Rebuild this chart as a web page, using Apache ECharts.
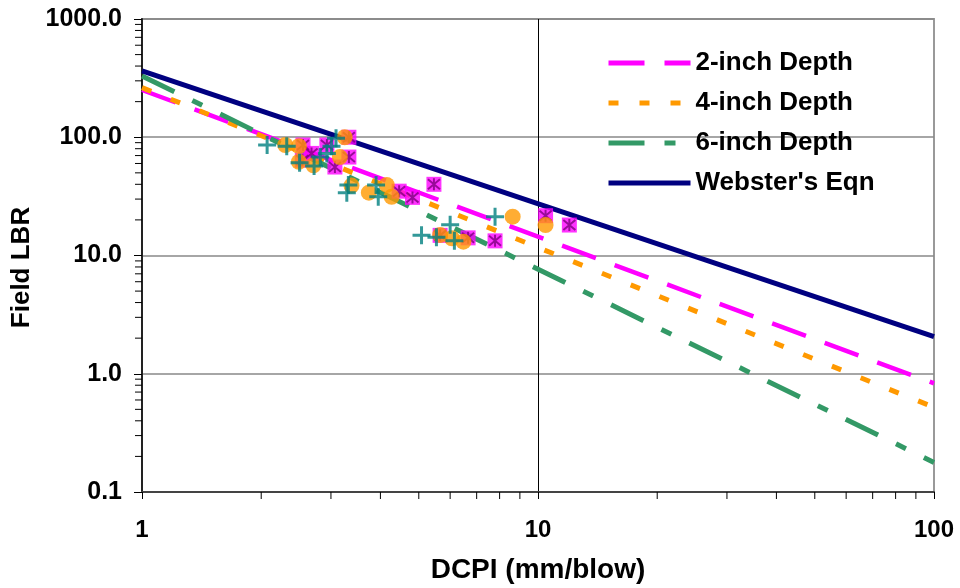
<!DOCTYPE html>
<html><head><meta charset="utf-8">
<script src="https://cdn.jsdelivr.net/npm/echarts@6/dist/echarts.min.js"></script>
<style>html,body{margin:0;padding:0;background:#fff}#c{width:960px;height:588px}</style>
</head><body><div id="c"></div>
<script>
// ---- data ----
const xTickLabels = ['1', '10', '100'];
const yTickLabels = ['0.1', '1.0', '10.0', '100.0', '1000.0'];
const lineNames = ['2-inch Depth', '4-inch Depth', '6-inch Depth', "Webster's Eqn"];

const depth2Line = [[1, 251], [100, 0.83]];
const depth4Line = [[1, 263], [100, 0.52]];
const depth6Line = [[1, 330], [100, 0.178]];
const websterLine = [[1, 365], [100, 2.06]];

const depth2Points = [[2.55, 86], [2.54, 64], [2.68, 73], [2.93, 86], [3.07, 56], [3.33, 100], [3.33, 68],
  [4.46, 35], [4.82, 31], [5.46, 40], [5.66, 14.8], [6.66, 14.1], [7.79, 13.3], [10.45, 21.7], [12.0, 18.1]];
const depth4Points = [[2.30, 86], [2.49, 84], [2.49, 62], [2.71, 58], [3.25, 100], [3.16, 68], [3.38, 39],
  [3.74, 34], [4.15, 39.5], [4.27, 31.4], [5.66, 14.9], [6.06, 14.0], [6.48, 13.1], [8.63, 21.3], [10.45, 18.1]];
const depth6Points = [[2.07, 86], [2.32, 84], [2.50, 61], [2.72, 57], [2.82, 68], [2.93, 73], [3.01, 84],
  [3.09, 98], [3.32, 39.5], [3.29, 34], [3.90, 39.5], [3.95, 31.4], [5.08, 14.8], [5.54, 14.3], [6.0, 18.2],
  [6.15, 13.3], [7.79, 21.3]];

// minor tick positions of the log axes (2..9 in each decade)
const minorMultipliers = [2, 3, 4, 5, 6, 7, 8, 9];
const yDecades = [0.1, 1, 10, 100];
const xDecades = [1, 10];

// ---- build ----
const FONT = "'Liberation Sans', Arial, sans-serif";
const yMinor = [];
yDecades.forEach(d => minorMultipliers.forEach(m => yMinor.push([1, +(d * m).toPrecision(3)])));
const xMinor = [];
xDecades.forEach(d => minorMultipliers.forEach(m => xMinor.push([+(d * m).toPrecision(3), 0.1])));

const chart = echarts.init(document.getElementById('c'), null, {renderer: 'canvas'});

function lineSeries(name, data, color, dash, width) {
  return {
    name, type: 'line', data, symbol: 'none', silent: true, animation: false, z: 3,
    lineStyle: {color, width, type: dash, cap: 'butt'},
    itemStyle: {color: 'rgba(0,0,0,0)', borderWidth: 0}
  };
}

const option = {
  animation: false,
  backgroundColor: '#fff',
  grid: {left: 142, right: 26, top: 19, bottom: 96, show: true, borderColor: '#999', borderWidth: 2,
    backgroundColor: 'transparent', outerBoundsMode: 'none'},
  legend: {
    data: lineNames, orient: 'vertical', left: 606, top: 50, padding: 0,
    itemWidth: 82, itemHeight: 14, itemGap: 14,
    lineStyle: {width: 5},
    textStyle: {fontFamily: FONT, fontWeight: 'bold', fontSize: 26, color: '#000', lineHeight: 26},
    selectedMode: false
  },
  xAxis: {
    type: 'log', logBase: 10, min: 1, max: 100,
    name: 'DCPI (mm/blow)', nameLocation: 'middle', nameGap: 64,
    nameTextStyle: {fontFamily: FONT, fontWeight: 'bold', fontSize: 28, color: '#000'},
    axisLine: {show: true, onZero: false, lineStyle: {color: '#444', width: 2}},
    axisTick: {show: true, length: 7, inside: false, lineStyle: {color: '#000', width: 1}},
    minorTick: {show: false},
    axisLabel: {margin: 26, fontFamily: FONT, fontWeight: 'bold', fontSize: 24, color: '#000',
      formatter: v => xTickLabels[Math.round(Math.log10(v))]},
    splitLine: {show: true, lineStyle: {color: ['#000', '#000', '#999'], width: 1}}
  },
  yAxis: {
    type: 'log', logBase: 10, min: 0.1, max: 1000,
    name: 'Field LBR', nameLocation: 'middle', nameGap: 95, nameRotate: 90,
    nameTextStyle: {fontFamily: FONT, fontWeight: 'bold', fontSize: 26, color: '#000', padding: [0, 24, 0, 0]},
    axisLine: {show: true, onZero: false, lineStyle: {color: '#222', width: 2}},
    axisTick: {show: true, length: 8, inside: false, lineStyle: {color: '#000', width: 1}},
    minorTick: {show: false},
    axisLabel: {margin: 20, fontFamily: FONT, fontWeight: 'bold', fontSize: 25, color: '#000',
      formatter: v => yTickLabels[Math.round(Math.log10(v)) + 1]},
    splitLine: {show: true, lineStyle: {color: '#888', width: 1.5}}
  },
  series: [
    // minor ticks drawn through the axis scales
    {type: 'custom', silent: true, clip: false, animation: false, data: yMinor, z: 5,
      renderItem: (params, api) => {
        const p = api.coord([api.value(0), api.value(1)]);
        return {type: 'line', shape: {x1: p[0] - 7, y1: p[1], x2: p[0], y2: p[1]}, style: {stroke: '#000', lineWidth: 1}};
      }},
    {type: 'custom', silent: true, clip: false, animation: false, data: xMinor, z: 5,
      renderItem: (params, api) => {
        const p = api.coord([api.value(0), api.value(1)]);
        return {type: 'line', shape: {x1: p[0], y1: p[1], x2: p[0], y2: p[1] + 7}, style: {stroke: '#000', lineWidth: 1}};
      }},
    lineSeries(lineNames[0], depth2Line, '#FF00FF', [36, 20], 4.5),
    lineSeries(lineNames[1], depth4Line, '#FF9900', [10, 21], 5),
    lineSeries(lineNames[2], depth6Line, '#339966', [36, 20, 11, 20], 5),
    lineSeries(lineNames[3], websterLine, '#000080', 'solid', 5),
    {name: '2-inch data', type: 'scatter', data: depth2Points, symbol: 'rect', symbolSize: 15, z: 4,
      itemStyle: {color: '#FF00FF'}},
    {name: '2-inch data *', type: 'scatter', data: depth2Points, z: 4,
      symbol: 'path://M0,0L10,10M10,0L0,10M5,-1L5,11', symbolSize: 12,
      itemStyle: {color: 'rgba(0,0,0,0)', borderColor: '#800080', borderWidth: 2}},
    {name: '4-inch data', type: 'scatter', data: depth4Points, symbol: 'circle', symbolSize: 16, z: 4,
      itemStyle: {color: '#FF9900'}},
    {name: '6-inch data', type: 'scatter', data: depth6Points, z: 4,
      symbol: 'path://M5,0L5,10M0,5L10,5', symbolSize: 18,
      itemStyle: {color: 'rgba(0,0,0,0)', borderColor: '#008080', borderWidth: 3}}
  ]
};
chart.setOption(option);
</script>
</body></html>
